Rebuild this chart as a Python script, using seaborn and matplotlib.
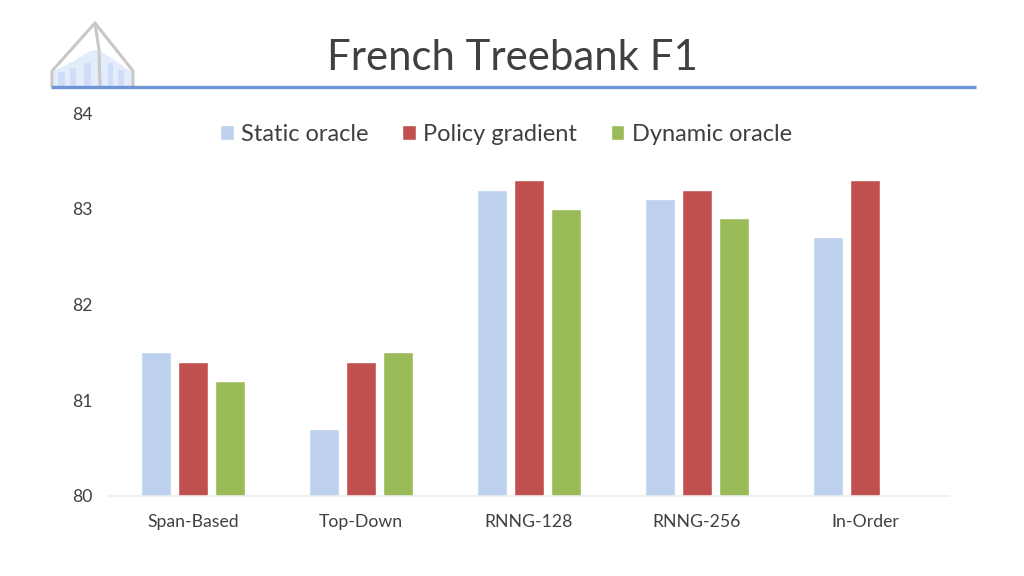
import numpy as np
import pandas as pd
import matplotlib
matplotlib.use("Agg")
import matplotlib.pyplot as plt
from matplotlib.patches import Polygon
import seaborn as sns

# ── Data ──────────────────────────────────────────────────────────────────────
models = ["Span-Based", "Top-Down", "RNNG-128", "RNNG-256", "In-Order"]
static_oracle = [81.5, 80.7, 83.2, 83.1, 82.7]
policy_gradient = [81.4, 81.4, 83.3, 83.2, 83.3]
dynamic_oracle = [81.2, 81.5, 83.0, 82.9, np.nan]

series_names = ["Static oracle", "Policy gradient", "Dynamic oracle"]
colors = ["#BDD0EE", "#C0504D", "#9BBB59"]
y_ticks = [80, 81, 82, 83, 84]

df = pd.DataFrame({
    "model": models * 3,
    "F1": static_oracle + policy_gradient + dynamic_oracle,
    "series": np.repeat(series_names, len(models)),
})

sns.set_theme(style="white")
plt.rcParams["font.family"] = ["Lato", "DejaVu Sans"]
W, H = 1024, 576
TEXT = "#404040"

fig = plt.figure(figsize=(W / 100, H / 100), dpi=100)
ax = fig.add_axes([109 / W, 1 - 496 / H, 840 / W, 383 / H])

# ── Bars ──────────────────────────────────────────────────────────────────────
sns.barplot(data=df, x="model", y="F1", hue="series", order=models,
            hue_order=series_names, palette=colors, width=0.66, gap=0.19,
            saturation=1, ax=ax)
ax.set_ylim(80, 84)
ax.set_xlim(-0.5, 4.5)
ax.set_xlabel("")
ax.set_ylabel("")
ax.set_yticks(y_ticks)
ax.tick_params(axis="y", length=0, pad=12, labelsize=12.7, labelcolor=TEXT)
ax.tick_params(axis="x", length=0, pad=13, labelsize=12.7, labelcolor=TEXT)
for side in ["top", "left", "right"]:
    ax.spines[side].set_visible(False)
ax.spines["bottom"].set_color("#EDEDED")
ax.spines["bottom"].set_linewidth(1.2)

# ── Legend ────────────────────────────────────────────────────────────────────
handles, labels = ax.get_legend_handles_labels()
ax.legend(handles, labels, ncol=3, frameon=False, fontsize=17, labelcolor=TEXT,
          loc="center", bbox_to_anchor=(0.4726, 0.945), handlelength=0.58,
          handleheight=0.58, handletextpad=0.32, columnspacing=1.42,
          borderpad=0)

# ── Header ────────────────────────────────────────────────────────────────────
fig.text(512 / W, 1 - 58 / H, "French Treebank F1", ha="center", va="center",
         fontsize=30.2, color=TEXT)

# Overlay in pixel coordinates for the rule and the logo
deco = fig.add_axes([0, 0, 1, 1], zorder=-1)
deco.set_xlim(0, W)
deco.set_ylim(H, 0)
deco.axis("off")
deco.add_patch(Polygon([(54, 71), (72, 62), (90, 51), (99, 50), (132, 72), (132, 86), (54, 86)],
                       closed=True, facecolor="#E3ECFA", edgecolor="none"))
for x0, x1, top in [(58, 65, 72), (70, 76, 68), (84, 91, 63), (108, 113, 63), (118, 124, 70)]:
    deco.fill_between([x0, x1], top, 86, color="#CFDDF6", lw=0)
deco.plot([52, 52, 95, 133, 133], [86, 71, 23, 71, 86], color="#C8C8C8", lw=2.2,
          solid_joinstyle="round")
deco.plot([95, 99, 100], [23, 50, 86], color="#C8C8C8", lw=2.2)
deco.plot([51, 976], [87, 87], color="#6E95D8", lw=2.4, solid_capstyle="butt")

fig.savefig("out.png", dpi=100)
